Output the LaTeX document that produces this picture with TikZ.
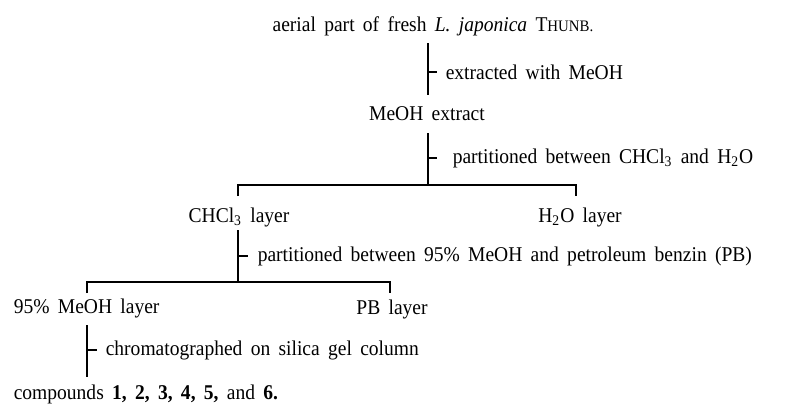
\documentclass[tikz,border=0pt]{standalone}
\usepackage{fontspec}
\setmainfont{Liberation Serif}[FakeStretch=0.93, WordSpace=1.7]
\usepackage{tikz}

\begin{document}
\begin{tikzpicture}[x=0.5pt, y=-0.5pt, line width=0.8pt,
  main/.style = {anchor=base, inner sep=0pt, font=\fontsize{10.5}{12}\selectfont},
  note/.style = {anchor=west, inner sep=0pt, font=\fontsize{10.5}{12}\selectfont}]
\useasboundingbox (0,0) rectangle (791,407);
% materials and fractions
\node[main] (aerial) at (433,31) {aerial part of fresh \textit{L. japonica} T{\fontsize{8}{10}\selectfont HUNB.}};
\node[main] (extract) at (427,120) {MeOH extract};
\node[main] (chcl) at (239,222) {CHCl\textsubscript{3} layer};
\node[main] (water) at (580,222) {H\textsubscript{2}O layer};
\node[main, anchor=base west] (meoh) at (13,313) {95\% MeOH layer};
\node[main] (pb) at (392,314) {PB layer};
\node[main, anchor=base west] (cpds) at (13,399) {compounds \textbf{1, 2, 3, 4, 5,} and \textbf{6.}};
% stems and branch points
\coordinate (s1a) at (428,43);
\coordinate (s1b) at (428,95);
\coordinate (s1t) at (428,72);
\coordinate (s2a) at (428,133);
\coordinate (s2b) at (428,185);
\coordinate (s2t) at (428,158);
\coordinate (s3a) at (238,230);
\coordinate (s3b) at (238,282);
\coordinate (s3t) at (238,256);
\coordinate (s4a) at (87,325);
\coordinate (s4b) at (87,377);
\coordinate (s4t) at (87,350);
\coordinate (k1) at (238,196);
\coordinate (k2) at (576,196);
\coordinate (k3) at (87,293);
\coordinate (k4) at (390,293);
% steps
\draw[-] (s1a) -- (s1b);
\draw[-] (s1t) -- ++(9,0) coordinate (e1);
\node[note] (n1) at ([xshift=4pt]e1) {extracted with MeOH};
\draw[-] (s2a) -- (s2b);
\draw[-] (s2t) -- ++(9,0) coordinate (e2);
\node[note] (n2) at ([xshift=7.5pt]e2) {partitioned between CHCl\textsubscript{3} and H\textsubscript{2}O};
\draw[-] (k1) |- (s2b) -| (k2);
\draw[-] (s3a) -- (s3b);
\draw[-] (s3t) -- ++(10,0) coordinate (e3);
\node[note] (n3) at ([xshift=4.5pt]e3) {partitioned between 95\% MeOH and petroleum benzin (PB)};
\draw[-] (k3) |- (s3b) -| (k4);
\draw[-] (s4a) -- (s4b);
\draw[-] (s4t) -- ++(10,0) coordinate (e4);
\node[note] (n4) at ([xshift=4pt]e4) {chromatographed on silica gel column};
\end{tikzpicture}
\end{document}
